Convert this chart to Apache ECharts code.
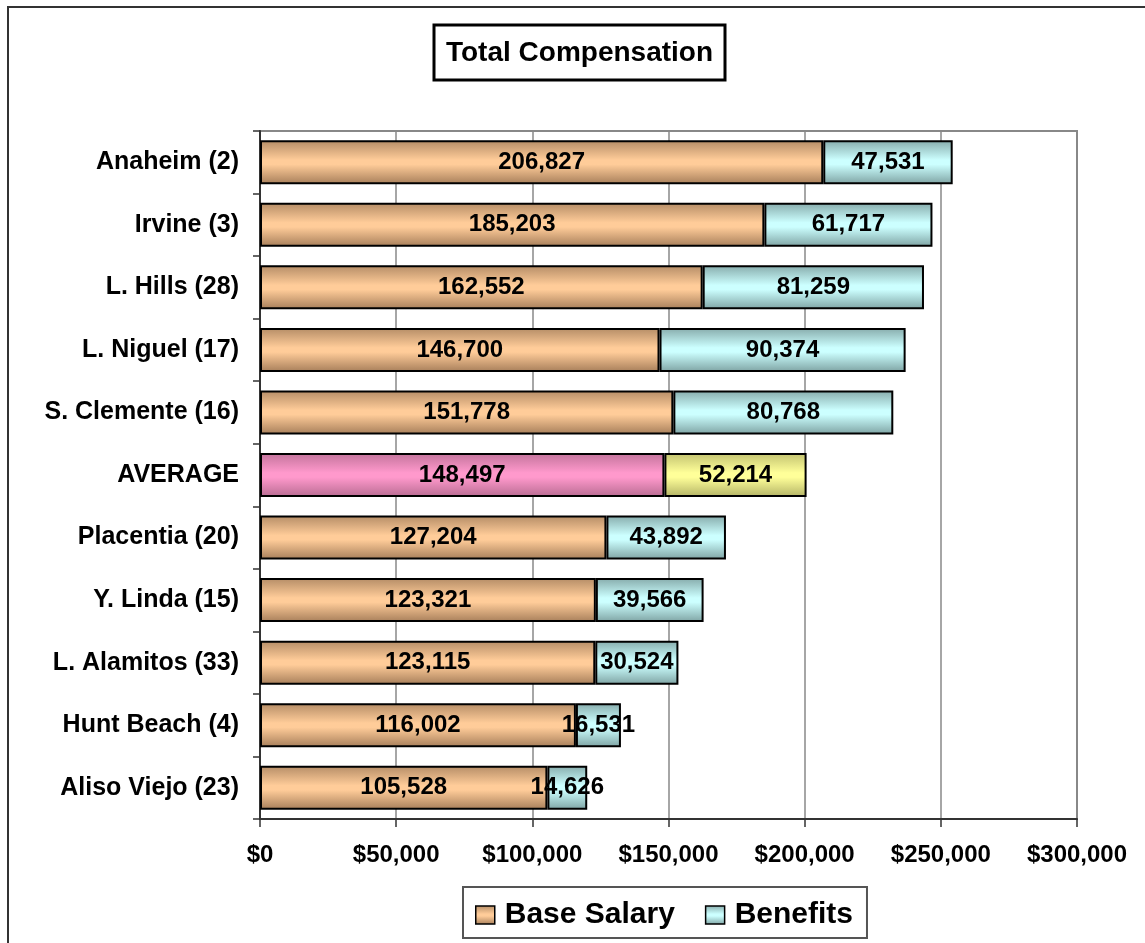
<!DOCTYPE html>
<html lang="en">
<head>
    <meta charset="UTF-8">
    <script src="https://cdn.jsdelivr.net/npm/echarts@6/dist/echarts.min.js"></script>
</head>
<style>
    html, body {
        width: 100%;
        height: 100%;
        margin: 0;
        background: #fff;
    }
</style>
<body>

<div id="main" style="width:1145px;height:943px;"></div>

<script type="text/javascript">

    // categories, top to bottom
    var cities = ['Anaheim (2)', 'Irvine (3)', 'L. Hills (28)', 'L. Niguel (17)', 'S. Clemente (16)',
        'AVERAGE', 'Placentia (20)', 'Y. Linda (15)', 'L. Alamitos (33)', 'Hunt Beach (4)', 'Aliso Viejo (23)'];
    var baseSalary = [206827, 185203, 162552, 146700, 151778, 148497, 127204, 123321, 123115, 116002, 105528];
    var benefits = [47531, 61717, 81259, 90374, 80768, 52214, 43892, 39566, 30524, 16531, 14626];
    var xTicks = [0, 50000, 100000, 150000, 200000, 250000, 300000];

    var FONT = '"Liberation Sans", Arial, sans-serif';

    function grad(edge, mid, edge2) {
        return new echarts.graphic.LinearGradient(0, 0, 0, 1, [
            {offset: 0, color: edge},
            {offset: 0.45, color: mid},
            {offset: 0.55, color: mid},
            {offset: 1, color: edge2}
        ]);
    }

    var tan = grad('#B48C66', '#FFCC99', '#A67E5A');
    var cyan = grad('#86ABAB', '#CCFFFF', '#7EA3A3');
    var pink = grad('#C2739B', '#FF99CC', '#B86C92');
    var yellow = grad('#C2C270', '#FFFF99', '#B3B366');

    function fmt(v) {
        return v.toString().replace(/\B(?=(\d{3})+(?!\d))/g, ',');
    }

    var baseData = baseSalary.map(function (v, i) {
        return cities[i] === 'AVERAGE' ? {value: v, itemStyle: {color: pink}} : v;
    });
    var benData = benefits.map(function (v, i) {
        return cities[i] === 'AVERAGE' ? {value: v, itemStyle: {color: yellow}} : v;
    });

    var labelStyle = {
        show: true,
        position: 'inside',
        color: '#000',
        fontFamily: FONT,
        fontWeight: 'bold',
        fontSize: 24,
        formatter: function (p) { return fmt(p.value); }
    };

    var myEcharts = echarts.init(document.getElementById('main'));

    var option = {
        animation: false,
        textStyle: {fontFamily: FONT},
        graphic: [
            {
                type: 'rect',
                shape: {x: 8, y: 7, width: 2000, height: 2000},
                style: {fill: 'none', stroke: '#333', lineWidth: 2}
            },
            {
                type: 'rect',
                shape: {x: 434, y: 25, width: 291, height: 55},
                style: {fill: '#fff', stroke: '#000', lineWidth: 3}
            },
            {
                type: 'text',
                x: 579.5,
                y: 53,
                style: {
                    text: 'Total Compensation',
                    fill: '#000',
                    font: 'bold 28px ' + FONT,
                    align: 'center',
                    verticalAlign: 'middle'
                }
            }
        ],
        legend: {
            left: 463,
            top: 887,
            padding: [13, 14, 8, 12],
            itemWidth: 19,
            itemHeight: 18,
            itemGap: 30,
            borderColor: '#555',
            borderWidth: 2,
            textStyle: {
                fontFamily: FONT,
                fontWeight: 'bold',
                fontSize: 30,
                color: '#000',
                padding: [0, 0, 0, 5]
            },
            data: [
                {name: 'Base Salary', icon: 'rect', itemStyle: {color: tan, borderColor: '#000', borderWidth: 1.5}},
                {name: 'Benefits', icon: 'rect', itemStyle: {color: cyan, borderColor: '#000', borderWidth: 1.5}}
            ]
        },
        grid: {
            left: 260,
            right: 68,
            top: 131,
            bottom: 124,
            show: true,
            borderColor: '#888',
            borderWidth: 2
        },
        xAxis: {
            type: 'value',
            min: xTicks[0],
            max: xTicks[xTicks.length - 1],
            interval: xTicks[1] - xTicks[0],
            axisLine: {show: true, lineStyle: {color: '#333', width: 2}},
            axisTick: {show: true, length: 8, lineStyle: {color: '#333', width: 1.5}},
            splitLine: {show: true, lineStyle: {color: '#888', width: 1.5}},
            axisLabel: {
                margin: 24,
                color: '#000',
                fontFamily: FONT,
                fontWeight: 'bold',
                fontSize: 24,
                formatter: function (v) { return '$' + fmt(v); }
            }
        },
        yAxis: {
            type: 'category',
            inverse: true,
            data: cities,
            axisLine: {show: true, lineStyle: {color: '#333', width: 2}},
            axisTick: {show: true, length: 7, lineStyle: {color: '#333', width: 1.5}},
            axisLabel: {
                margin: 21,
                color: '#000',
                fontFamily: FONT,
                fontWeight: 'bold',
                fontSize: 25
            }
        },
        series: [
            {
                name: 'Base Salary',
                type: 'bar',
                stack: 'total',
                barWidth: 44,
                itemStyle: {color: tan, borderColor: '#000', borderWidth: 2},
                label: labelStyle,
                data: baseData
            },
            {
                name: 'Benefits',
                type: 'bar',
                stack: 'total',
                barWidth: 44,
                itemStyle: {color: cyan, borderColor: '#000', borderWidth: 2},
                label: labelStyle,
                data: benData
            }
        ]
    };

    myEcharts.setOption(option);

</script>
</body>
</html>
